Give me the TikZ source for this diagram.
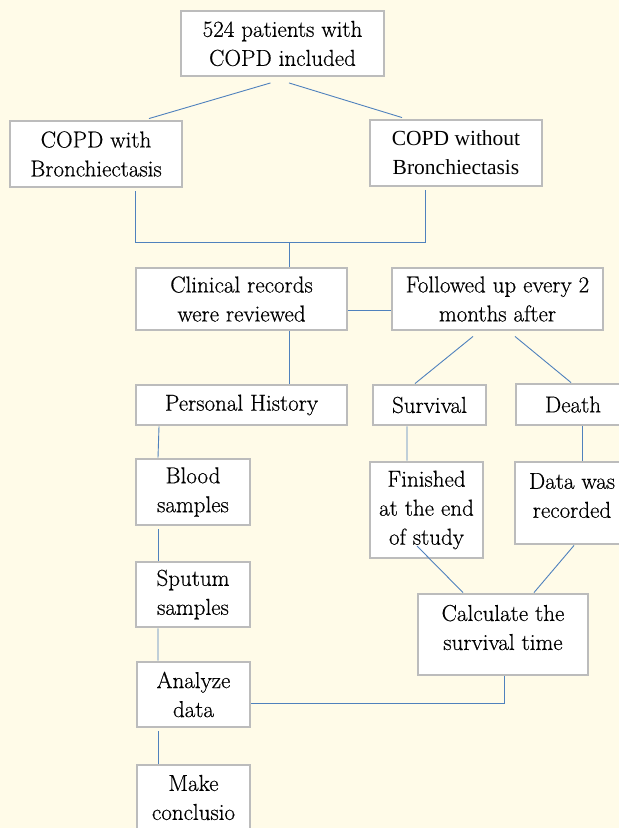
\documentclass[tikz,border=0pt]{standalone}
\usepackage{fontspec}
\newfontfamily\timesfont{Liberation Serif}
\newfontfamily\mainboxfont{Latin Modern Roman}[FakeBold=0.5]
\usetikzlibrary{calc}
\definecolor{bg}{RGB}{255,251,232}
\definecolor{boxgray}{RGB}{188,188,188}
\definecolor{linkblue}{RGB}{79,129,189}
\begin{document}
\begin{tikzpicture}[x=1bp,y=-1bp,
  box/.style={draw=boxgray, line width=2.9bp, fill=white, inner sep=0pt, align=center,
    font=\fontsize{23bp}{29bp}\mainboxfont},
  txt/.style={inner sep=0pt, align=center, font=\fontsize{23bp}{29bp}\mainboxfont},
  conn/.style={draw=linkblue, line width=0.9bp}]
\useasboundingbox[fill=bg] (0,0) rectangle (619,828);

% boxes
\node[box, minimum width=203bp, minimum height=65bp] (top) at (282.5,43.5) {524 patients with\\COPD included};
\node[box, minimum width=172bp, minimum height=66bp] (withB) at (96,154) {COPD with\\Bronchiectasis};
\node[box, minimum width=172bp, minimum height=66bp, font=\fontsize{21.5bp}{29bp}\timesfont] (withoutB) at (456,153) {COPD without\\Bronchiectasis};
\node[box, minimum width=211bp, minimum height=62bp] (clinical) at (241.5,299) {Clinical records\\were reviewed};
\node[box, minimum width=211bp, minimum height=62bp] (follow) at (497.5,299) {Followed up every 2\\months after};
\node[box, minimum width=211bp, minimum height=40bp] (personal) at (241.5,405) {Personal History};
\node[box, minimum width=113bp, minimum height=40bp] (survival) at (429.5,405) {Survival};
\node[box, minimum width=114bp, minimum height=41bp] (death) at (573,404.5) {Death};
\node[box, minimum width=114bp, minimum height=66bp] (blood) at (193,492) {Blood\\samples};
\node[box, minimum width=114bp, minimum height=65bp] (sputum) at (193,594.5) {Sputum\\samples};
\node[box, minimum width=113bp, minimum height=65bp] (analyze) at (193.5,694.5) {Analyze\\data};
\node[box, minimum width=113bp, minimum height=65bp] (make) at (193.5,797.5) {Make\\conclusio};
\node[box, minimum width=113bp, minimum height=96bp] (finished) at (426.5,510) {Finished\\at the end\\of study};
\node[box, minimum width=116bp, minimum height=82bp] (data) at (573,503) {};
\node[txt] (dataText) at (572,495.5) {Data was\\recorded};
\node[box, minimum width=170bp, minimum height=81bp] (calc) at (503,634.5) {};
\node[txt] (calcText) at (503,627.5) {Calculate the\\survival time};

% connectors
\coordinate (jn) at (289,242);
\draw[conn] ([xshift=-12bp,yshift=-5.5bp]top.south) -- ([xshift=53bp,yshift=1bp]withB.north);
\draw[conn] ([xshift=6.5bp,yshift=-5.5bp]top.south) -- ([xshift=-54bp,yshift=1bp]withoutB.north);
\draw[conn] ([xshift=39bp,yshift=-3bp]withB.south) |- (jn);
\draw[conn] ([xshift=-31bp,yshift=-3bp]withoutB.south) |- (jn);
\draw[conn] (jn) -- (jn |- clinical.north);
\draw[conn] ([yshift=-11bp]clinical.east) -- ([yshift=-11bp]follow.west);
\draw[conn] ([xshift=47.5bp]clinical.south) -- ([xshift=47.5bp]personal.north);
\draw[conn] ([xshift=-24.5bp,yshift=-5bp]follow.south) -- ([xshift=-14.5bp]survival.north);
\draw[conn] ([xshift=17.5bp,yshift=-5bp]follow.south) -- ([xshift=-2bp]death.north);
\draw[conn] ([xshift=-82.5bp]personal.south) -- ([xshift=-35bp]blood.north);
\draw[conn] ([xshift=-35bp,yshift=-3bp]blood.south) -- ([xshift=-35bp]sputum.north);
\draw[conn] ([xshift=-35bp]sputum.south) -- ([xshift=-35.5bp]analyze.north);
\draw[conn] ([xshift=-35.5bp,yshift=-3bp]analyze.south) -- ([xshift=-35.5bp]make.north);
\draw[conn] ([xshift=-22.5bp]survival.south) -- ([xshift=-19.5bp]finished.north);
\draw[conn] ([xshift=9bp]death.south) -- ([xshift=9bp]data.north);
\draw[conn] ([xshift=-9.5bp,yshift=-36bp]finished.center) -- ([xshift=-40bp]calc.north);
\draw[conn] ([xshift=1bp]data.south) -- ([xshift=31bp]calc.north);
\draw[conn] ([xshift=1bp]calc.south) |- ([yshift=-8.5bp]analyze.east);
\end{tikzpicture}
\end{document}
